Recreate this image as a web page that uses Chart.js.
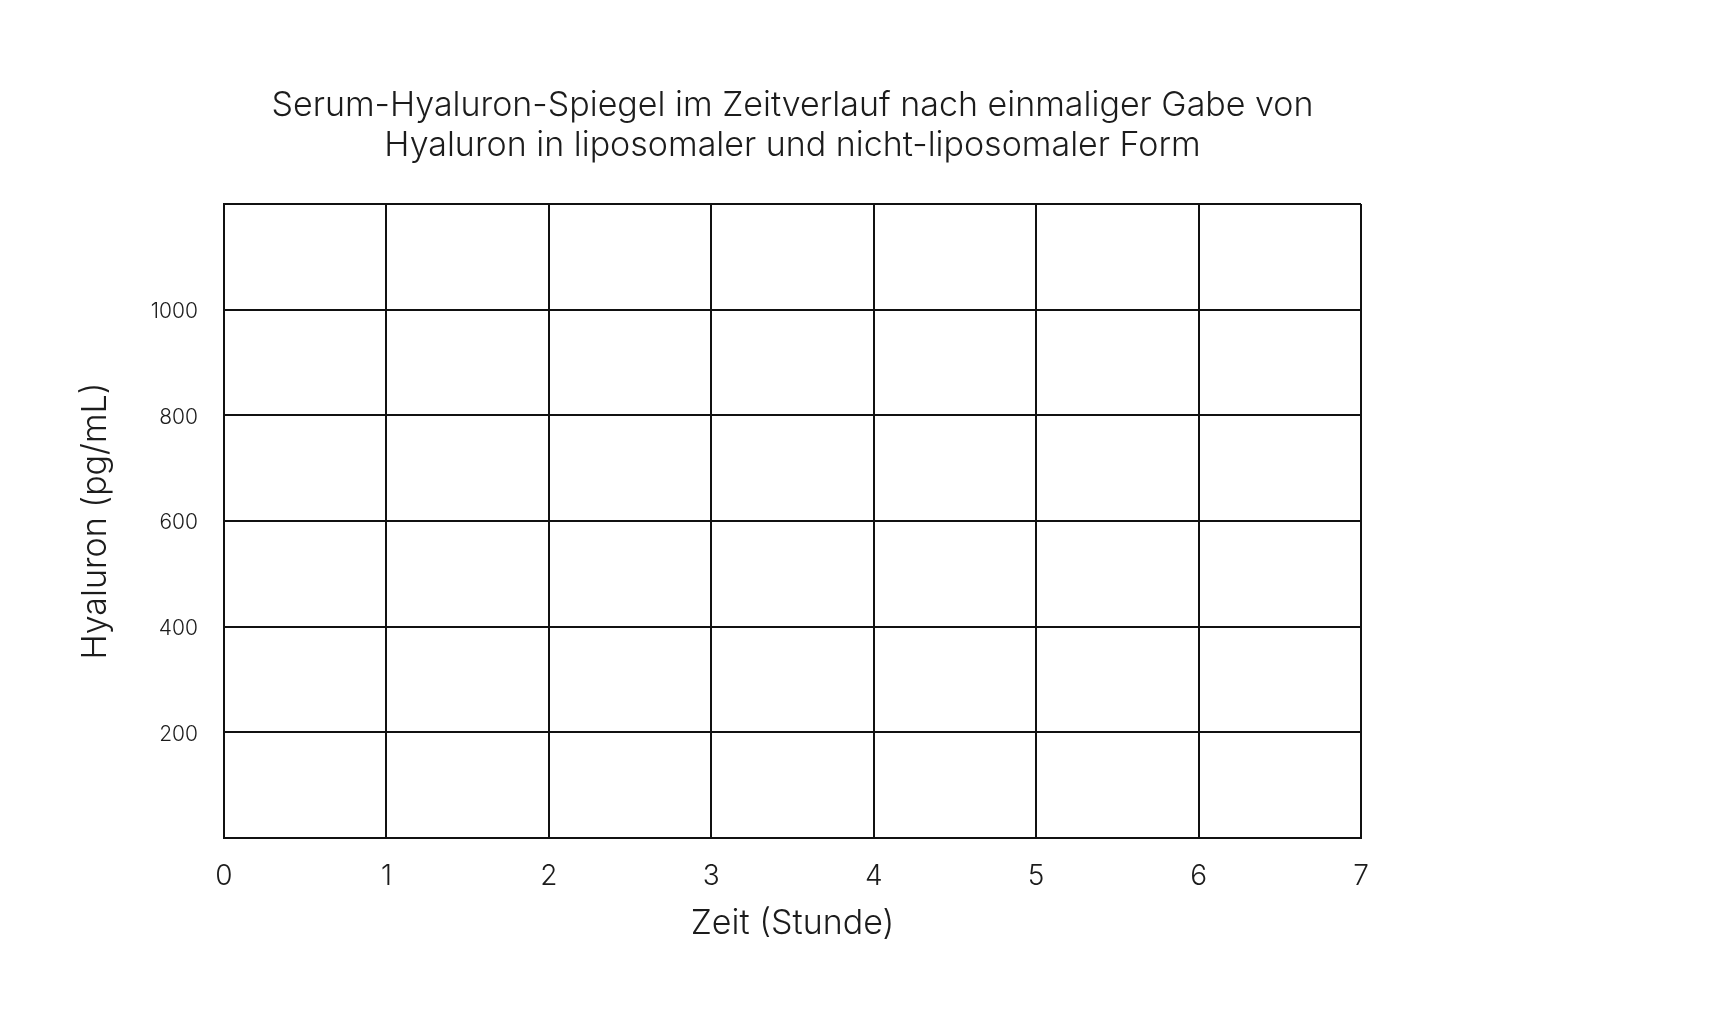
<!DOCTYPE html>
<html>
<head>
<meta charset="utf-8">
<script src="https://cdn.jsdelivr.net/npm/chart.js@4.4.1/dist/chart.umd.min.js"></script>
<style>
  html, body { margin: 0; padding: 0; background: #ffffff; }
  #wrap { width: 1719px; height: 1029px; }
</style>
</head>
<body>
<div id="wrap"><canvas id="c" width="1719" height="1029"></canvas></div>
<script>
// ---- chart content ----
const chartTitle = [
  'Serum-Hyaluron-Spiegel im Zeitverlauf nach einmaliger Gabe von',
  'Hyaluron in liposomaler und nicht-liposomaler Form'
];
const xAxisTitle = 'Zeit (Stunde)';
const yAxisTitle = 'Hyaluron (pg/mL)';

// x axis: hours
const xMin = 0;
const xMax = 7;
const xStep = 1;
// y axis: pg/mL
const yMin = 0;
const yMax = 1200;
const yStep = 200;
const yHiddenTickLabels = [0, 1200];

// series (the reference is an empty worksheet grid: no values plotted)
const liposomalLabel = 'liposomal';
const liposomalValues = [];
const nonLiposomalLabel = 'nicht-liposomal';
const nonLiposomalValues = [];

const FONT = 'Inter, "Noto Sans", "DejaVu Sans", sans-serif';
const INK = '#111111';
const TEXT = '#1c1c1c';

new Chart(document.getElementById('c'), {
  type: 'line',
  data: {
    datasets: [
      { label: liposomalLabel, data: liposomalValues, borderColor: INK },
      { label: nonLiposomalLabel, data: nonLiposomalValues, borderColor: INK, borderDash: [6, 4] }
    ]
  },
  options: {
    responsive: false,
    animation: false,
    devicePixelRatio: 1,
    layout: { padding: { top: 0, left: 0, right: 358, bottom: 0 } },
    plugins: {
      legend: { display: false },
      tooltip: { enabled: false },
      title: {
        display: true,
        text: chartTitle,
        fullSize: false,
        color: TEXT,
        font: { family: FONT, size: 34, weight: '300', lineHeight: 1.17 },
        padding: { top: 86, bottom: 38.4 }
      }
    },
    scales: {
      x: {
        type: 'linear',
        min: xMin,
        max: xMax,
        afterFit: (s) => { s.height = 191; },
        ticks: {
          stepSize: xStep,
          color: TEXT,
          padding: 22,
          font: { family: FONT, size: 28, weight: '300' },
          maxRotation: 0
        },
        grid: { color: INK, lineWidth: 2, drawTicks: false },
        border: { display: true, color: INK, width: 2 },
        title: {
          display: true,
          text: xAxisTitle,
          color: TEXT,
          font: { family: FONT, size: 34, weight: '300', lineHeight: 1.2 },
          padding: { top: 0, bottom: 85 }
        }
      },
      y: {
        type: 'linear',
        min: yMin,
        max: yMax,
        afterFit: (s) => { s.width = 224; },
        ticks: {
          stepSize: yStep,
          color: TEXT,
          padding: 26,
          labelOffset: 2,
          font: { family: FONT, size: 21, weight: '300' },
          callback: (v) => yHiddenTickLabels.includes(v) ? '' : String(v)
        },
        grid: { color: INK, lineWidth: 2, drawTicks: false },
        border: { display: true, color: INK, width: 2 },
        title: {
          display: true,
          text: yAxisTitle,
          color: TEXT,
          font: { family: FONT, size: 34, weight: '300', lineHeight: 1.2 },
          padding: { top: 75, bottom: 0 }
        }
      }
    }
  }
});
</script>
</body>
</html>
